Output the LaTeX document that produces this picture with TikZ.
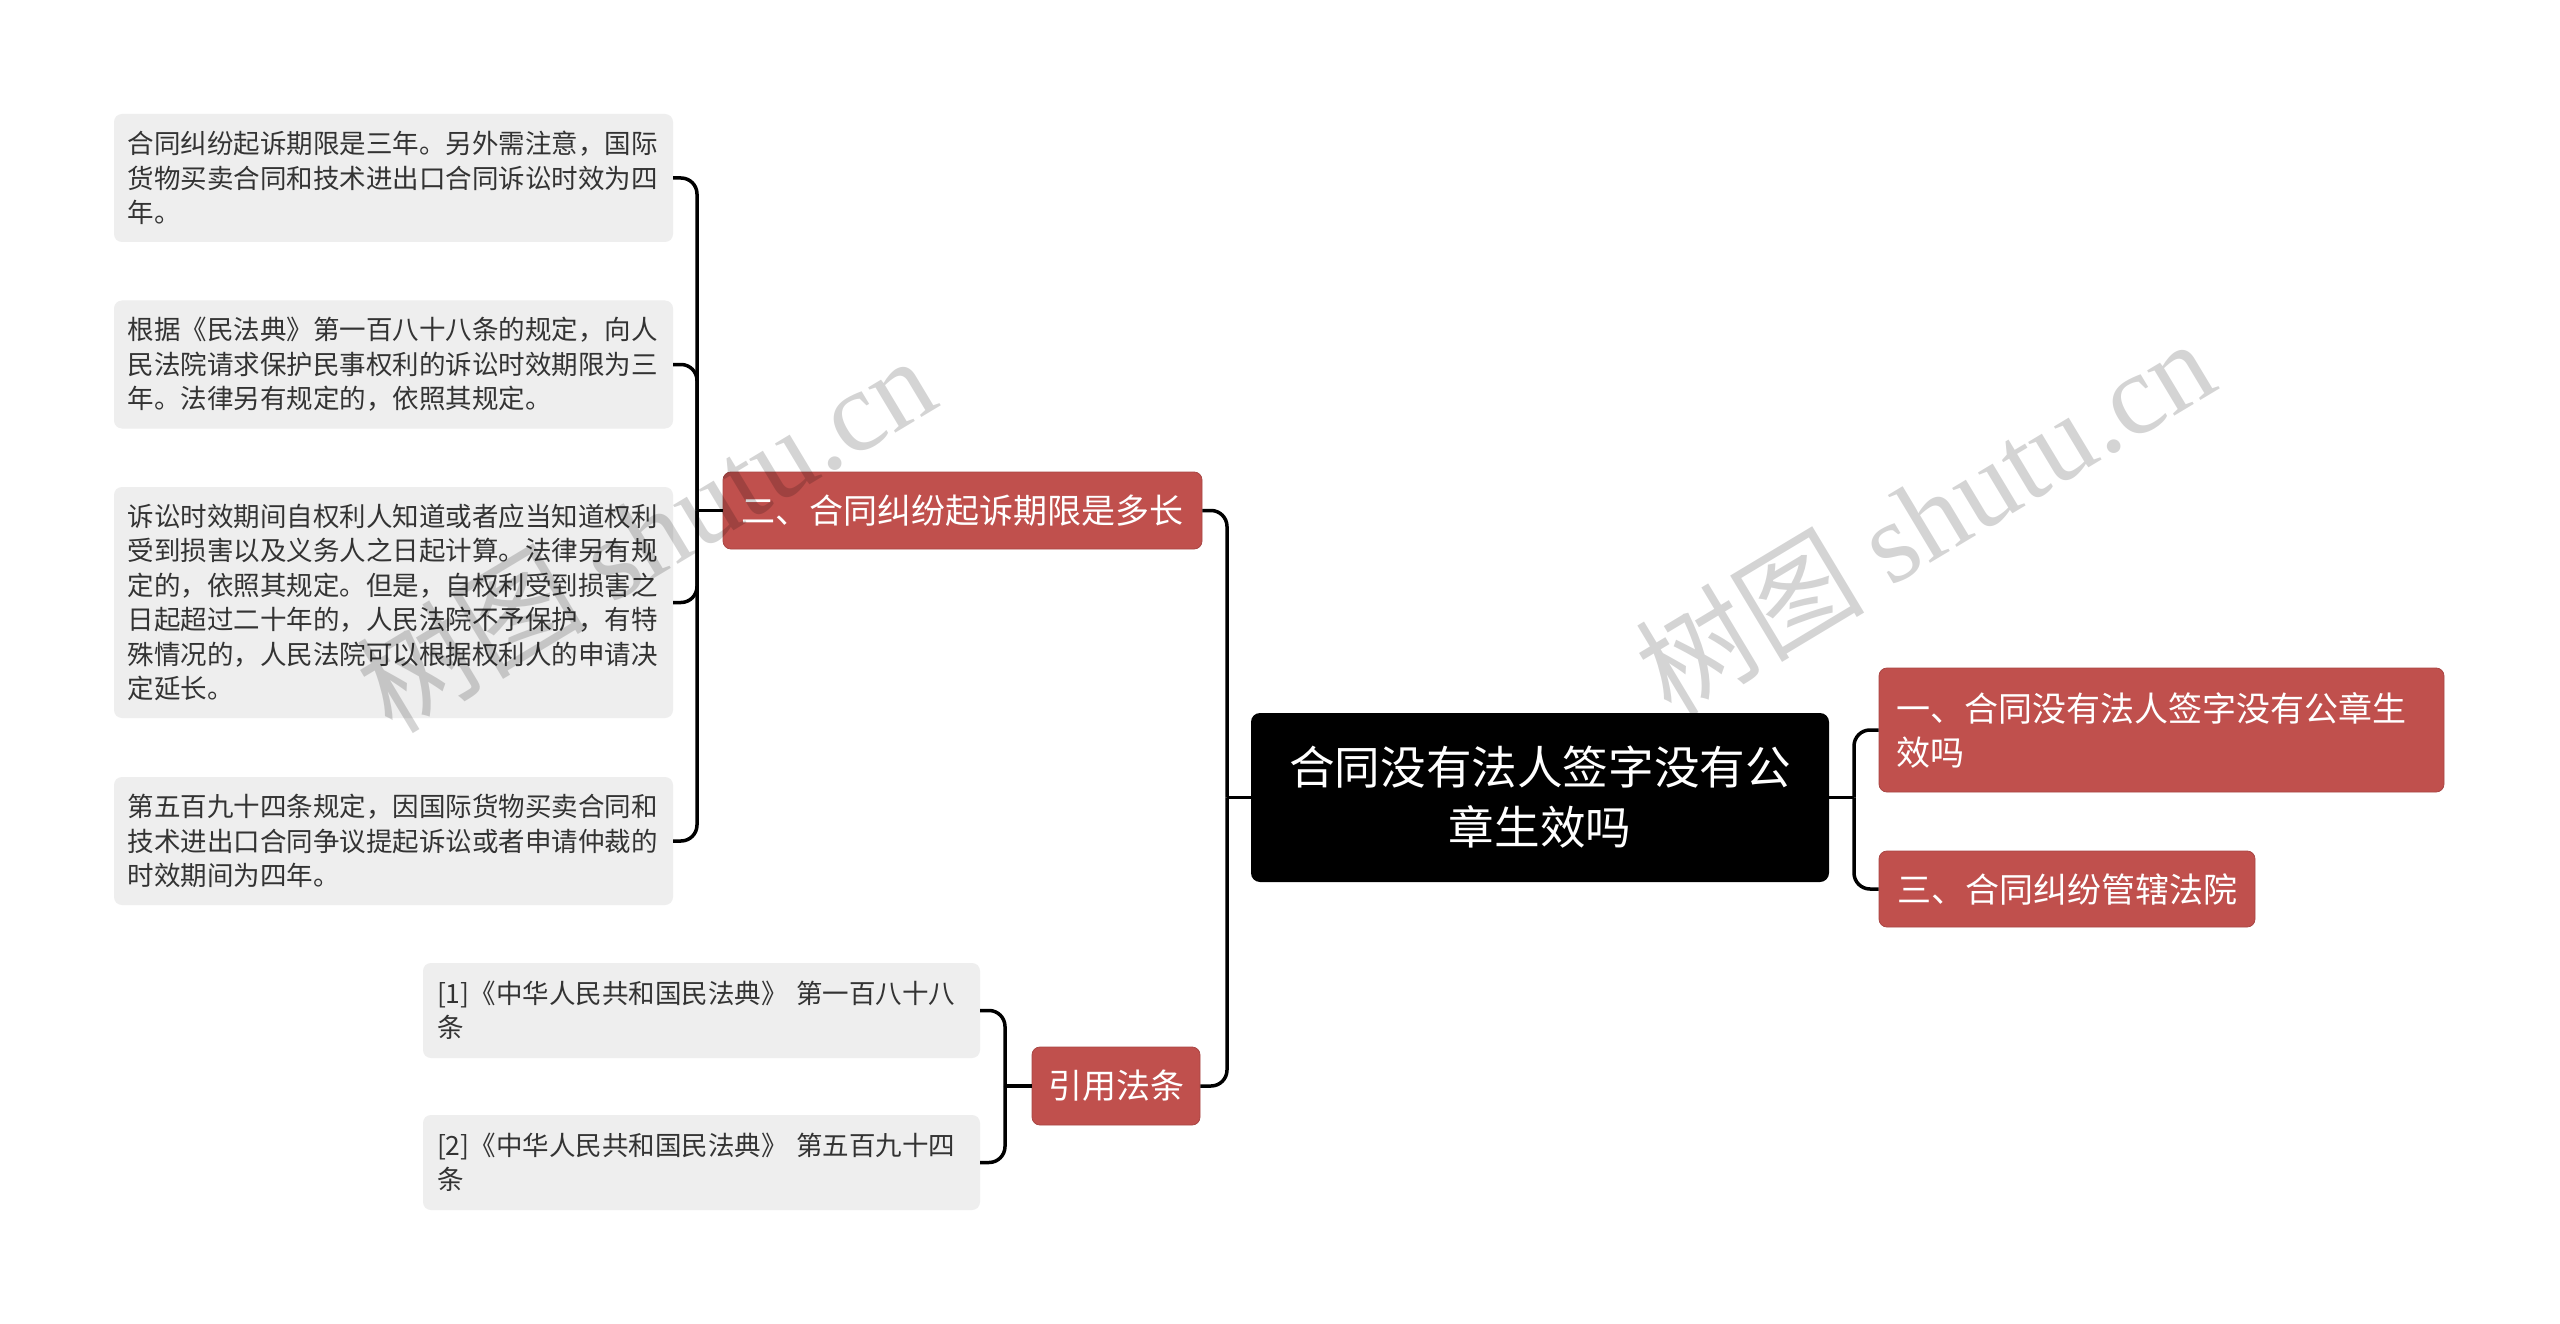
\documentclass[tikz,border=0pt]{standalone}
\usepackage{fontspec}
\setmainfont{Noto Sans CJK SC}
\newfontfamily\wmcjk{Noto Sans CJK SC}
\newfontfamily\wmlat{Liberation Serif}
\definecolor{nodered}{RGB}{192,80,77}
\definecolor{leafbg}{RGB}{238,238,238}
\definecolor{leaftxt}{RGB}{51,51,51}
\begin{document}
\begin{tikzpicture}[x=1pt,y=-1pt,
  leafbox/.style={rectangle, rounded corners=8pt, fill=leafbg, text=leaftxt,
    font=\fontsize{26.5pt}{34.4pt}\selectfont, text width=532pt, align=left,
    inner xsep=13.5pt, inner ysep=0pt, minimum height=#1},
  redbox/.style={rectangle, rounded corners=8pt, fill=nodered, draw=nodered!88!black,
    line width=0.8pt, text=white, font=\fontsize{34pt}{44pt}\selectfont,
    inner sep=0pt, minimum height=#1},
  rootbox/.style={rectangle, rounded corners=9pt, fill=black, text=white,
    font=\fontsize{45.6pt}{60pt}\selectfont, align=center, inner sep=0pt,
    minimum width=578pt, minimum height=169pt},
  conn/.style={draw=black, line width=3.5pt, rounded corners=16pt},
  wmark/.style={rotate=31, text=black, text opacity=0.17, inner sep=0pt}
]
\fill[white] (0,0) rectangle (2560,1324);
\useasboundingbox (0,0) rectangle (2560,1324);

% root
\node[rootbox] (root) at (1540,797.5) {合同没有法人签字没有公\\章生效吗};

% right children
\node[redbox=124pt, minimum width=565pt, text width=531pt, align=left] (n1) at (2161.5,730)
  {一、合同没有法人签字没有公章生\\效吗};
\node[redbox=76pt, minimum width=376pt] (n3) at (2067,889) {三、合同纠纷管辖法院};

% left branches
\node[redbox=77pt, minimum width=479pt] (b2) at (962.5,510.5) {二、合同纠纷起诉期限是多长};
\node[redbox=78pt, minimum width=168pt] (cite) at (1116,1086) {引用法条};

% leaves
\node[leafbox=128pt] (l1) at (393.5,178)
  {合同纠纷起诉期限是三年。另外需注意，国际\\货物买卖合同和技术进出口合同诉讼时效为四\\年。};
\node[leafbox=128pt] (l2) at (393.5,364.5)
  {根据《民法典》第一百八十八条的规定，向人\\民法院请求保护民事权利的诉讼时效期限为三\\年。法律另有规定的，依照其规定。};
\node[leafbox=231pt] (l3) at (393.5,602.5)
  {诉讼时效期间自权利人知道或者应当知道权利\\受到损害以及义务人之日起计算。法律另有规\\定的，依照其规定。但是，自权利受到损害之\\日起超过二十年的，人民法院不予保护，有特\\殊情况的，人民法院可以根据权利人的申请决\\定延长。};
\node[leafbox=128pt] (l4) at (393.5,841)
  {第五百九十四条规定，因国际货物买卖合同和\\技术进出口合同争议提起诉讼或者申请仲裁的\\时效期间为四年。};

% references
\node[leafbox=95pt, text width=529pt, inner xsep=14pt] (r1) at (701.5,1010.5)
  {[1]《中华人民共和国民法典》 第一百八十八\\条};
\node[leafbox=95pt, text width=529pt, inner xsep=14pt] (r2) at (701.5,1162.5)
  {[2]《中华人民共和国民法典》 第五百九十四\\条};

% connectors
\coordinate (tl) at (1227,797.5);
\draw[conn] (root.west) -- (tl);
\draw[conn] (tl) |- (b2.east);
\draw[conn] (tl) |- (cite.east);

\coordinate (tr) at (1854,797.5);
\draw[conn] (root.east) -- (tr);
\draw[conn] (tr) |- (n1.west);
\draw[conn] (tr) |- (n3.west);

\coordinate (tb) at (697,510.5);
\draw[conn] (b2.west) -- (tb);
\draw[conn] (tb) |- (l1.east);
\draw[conn] (tb) |- (l2.east);
\draw[conn] (tb) |- (l3.east);
\draw[conn] (tb) |- (l4.east);

\coordinate (tc) at (1005,1086);
\draw[conn] (cite.west) -- (tc);
\draw[conn] (tc) |- (r1.east);
\draw[conn] (tc) |- (r2.east);

% watermarks
\node[wmark] (wm1) at (645,533) {\fontsize{115pt}{115pt}\selectfont{\wmcjk 树图} {\wmlat shutu.cn}};
\node[wmark] (wm2) at (1924,516) {\fontsize{115pt}{115pt}\selectfont{\wmcjk 树图} {\wmlat shutu.cn}};
\end{tikzpicture}
\end{document}
